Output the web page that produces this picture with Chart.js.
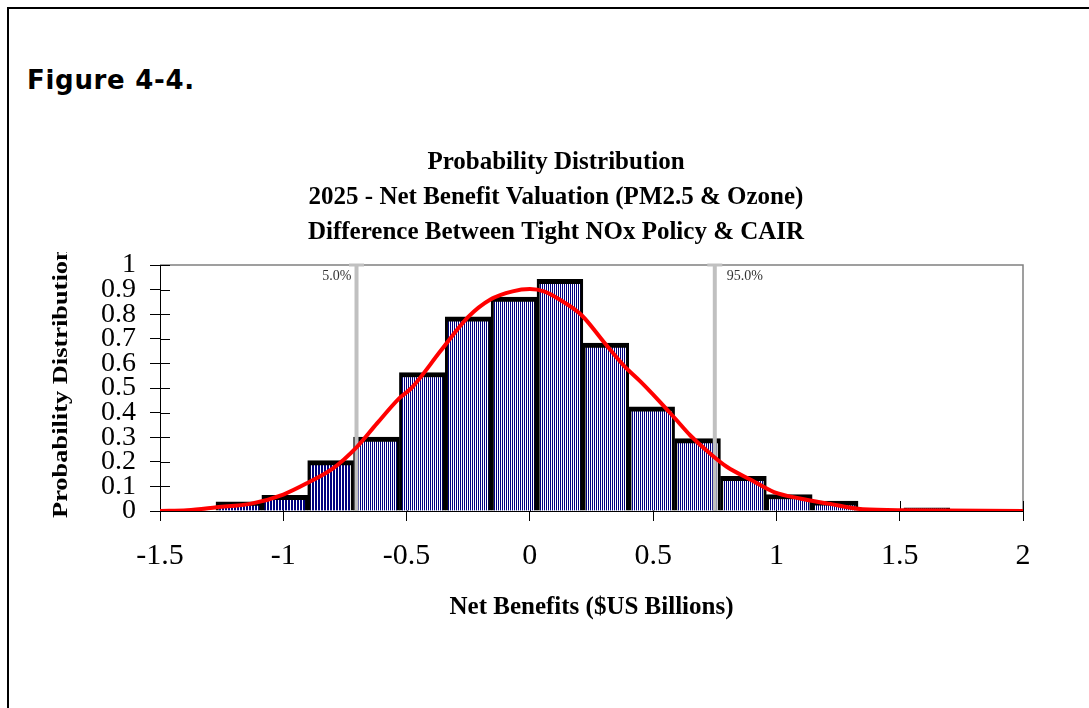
<!DOCTYPE html>
<html>
<head>
<meta charset="utf-8">
<script src="https://cdn.jsdelivr.net/npm/chart.js@4/dist/chart.umd.min.js"></script>
<style>
  html, body { margin: 0; padding: 0; background: #fff; overflow: hidden; }
  #frame { position: absolute; left: 7px; top: 7px; width: 1200px; height: 800px; border: 2px solid #000; }
  #fig { position: absolute; left: 27px; top: 67px; font: bold 26px "DejaVu Sans", Verdana, sans-serif; letter-spacing: 0.7px; line-height: 26px; color: #000; }
  #dist { position: absolute; left: 0; top: 0; }
</style>
</head>
<body>
<div id="frame"></div>
<div id="fig">Figure 4-4.</div>
<canvas id="dist" width="1089" height="708"></canvas>
<script>
// histogram bins (centre of each bin) and their heights
const binCenters = [-1.18, -0.994, -0.808, -0.622, -0.436, -0.25, -0.064, 0.122, 0.308, 0.494, 0.68, 0.866, 1.052, 1.238, 1.424, 1.61];
const binHeights = [0.037, 0.064, 0.205, 0.30, 0.563, 0.789, 0.87, 0.942, 0.683, 0.423, 0.294, 0.141, 0.067, 0.04, 0.004, 0.013];

// fitted density curve
const curveX = [-1.5, -1.39, -1.27, -1.13, -1.0, -0.9, -0.8, -0.7, -0.62, -0.53, -0.48, -0.36, -0.25, -0.16, -0.07, 0.0, 0.06, 0.12, 0.21, 0.30, 0.38, 0.45, 0.52, 0.59, 0.65, 0.74, 0.80, 0.90, 0.99, 1.10, 1.21, 1.35, 1.53, 2.0];
const curveY = [0, 0.003, 0.015, 0.03, 0.067, 0.115, 0.172, 0.262, 0.356, 0.458, 0.50, 0.653, 0.789, 0.86, 0.893, 0.902, 0.892, 0.86, 0.796, 0.687, 0.592, 0.525, 0.452, 0.375, 0.308, 0.226, 0.179, 0.125, 0.077, 0.05, 0.03, 0.007, 0.003, 0];

// 5% / 95% percentiles
const pctValues = [-0.703, 0.75];
const pctLabels = ['5.0%', '95.0%'];

const titleLines = ['Probability Distribution', '2025 - Net Benefit Valuation (PM2.5 & Ozone)', 'Difference Between Tight NOx Policy & CAIR'];
const xTitle = 'Net Benefits ($US Billions)';
const yTitle = 'Probability Distribution';
const xMin = -1.5, xMax = 2, xStep = 0.5;
const yMin = 0, yMax = 1, yStep = 0.1;

const serif = '"Liberation Serif", "Times New Roman", serif';

function stripes(navy, white) {
  const c = document.createElement('canvas');
  c.width = navy + white;
  c.height = 1;
  const g = c.getContext('2d');
  g.fillStyle = '#fff';
  g.fillRect(0, 0, c.width, 1);
  g.fillStyle = '#000080';
  g.fillRect(0, 0, navy, 1);
  return g.createPattern(c, 'repeat');
}
const darkFill = stripes(2, 1);
const lightFill = stripes(1, 1);
const barFills = binCenters.map(c => c < pctValues[0] ? darkFill : lightFill);

// plain numbers on the axes: 1, 0.5, -1 ...
const plain = v => String(Math.round(v * 10) / 10);

// grey frame on top/right and ticks crossing into the plot
const frameTicks = {
  id: 'frameTicks',
  beforeDatasetsDraw(chart) {
    const { ctx, chartArea: a, scales: { x, y } } = chart;
    ctx.save();
    ctx.strokeStyle = '#808080';
    ctx.lineWidth = 1.5;
    ctx.beginPath();
    ctx.moveTo(a.left, a.top);
    ctx.lineTo(a.right, a.top);
    ctx.lineTo(a.right, a.bottom);
    ctx.stroke();
    ctx.strokeStyle = '#000';
    ctx.lineWidth = 1;
    ctx.beginPath();
    y.ticks.forEach(t => {
      const py = Math.round(y.getPixelForValue(t.value)) + 0.5;
      ctx.moveTo(a.left, py);
      ctx.lineTo(a.left + 10, py);
    });
    x.ticks.forEach(t => {
      const px = Math.round(x.getPixelForValue(t.value)) + 0.5;
      ctx.moveTo(px, a.bottom);
      ctx.lineTo(px, a.bottom - 10);
    });
    ctx.stroke();
    ctx.restore();
  },
  afterDatasetsDraw(chart) {
    const { ctx, chartArea: a, scales: { x } } = chart;
    ctx.save();
    ctx.font = '14px ' + serif;
    ctx.fillStyle = '#333';
    ctx.textBaseline = 'middle';
    ctx.textAlign = 'right';
    ctx.fillText(pctLabels[0], x.getPixelForValue(pctValues[0]) - 5, a.top + 11);
    ctx.textAlign = 'left';
    ctx.fillText(pctLabels[1], x.getPixelForValue(pctValues[1]) + 12, a.top + 11);
    ctx.restore();
  },
  afterDraw(chart) {
    // y title is longer than the axis, so it gets cut off above the plot
    const { ctx, chartArea: a } = chart;
    ctx.save();
    ctx.beginPath();
    ctx.rect(0, a.top - 13, a.left, chart.height);
    ctx.clip();
    ctx.translate(67, a.bottom + 7);
    ctx.rotate(-Math.PI / 2);
    ctx.scale(1.2, 1);
    ctx.font = 'bold 22px ' + serif;
    ctx.fillStyle = '#000';
    ctx.textAlign = 'left';
    ctx.textBaseline = 'alphabetic';
    ctx.fillText(yTitle, 0, 0);
    ctx.restore();
  }
};

function pctLine(v) {
  return {
    type: 'line',
    data: [{ x: v, y: yMin }, { x: v, y: yMax }],
    borderColor: '#c0c0c0',
    borderWidth: 4,
    pointRadius: [0, 7.5],
    pointStyle: 'line',
    pointBorderColor: '#c0c0c0',
    pointBorderWidth: 3,
    clip: false,
    order: 1
  };
}

let context = document.querySelector('#dist').getContext('2d');
new Chart(context, {
  type: 'bar',
  data: {
    datasets: [
      {
        type: 'line',
        data: curveX.map((v, i) => ({ x: v, y: curveY[i] })),
        borderColor: '#ff0000',
        borderWidth: 4,
        pointRadius: 0,
        cubicInterpolationMode: 'monotone',
        order: 0
      },
      pctLine(pctValues[0]),
      pctLine(pctValues[1]),
      {
        type: 'bar',
        data: binCenters.map((v, i) => ({ x: v, y: binHeights[i] })),
        backgroundColor: barFills,
        borderColor: '#000',
        borderWidth: { top: 5, left: 3, right: 3, bottom: 0 },
        barPercentage: 1,
        categoryPercentage: 1,
        order: 2
      }
    ]
  },
  options: {
    responsive: false,
    animation: false,
    layout: { padding: { left: 89, right: 66, top: 0, bottom: 85 } },
    plugins: {
      legend: { display: false },
      tooltip: { enabled: false },
      title: {
        display: true,
        text: titleLines,
        color: '#000',
        font: { family: serif, size: 25, weight: 'bold', lineHeight: 1.4 },
        padding: { top: 145, bottom: 15 }
      }
    },
    scales: {
      x: {
        type: 'linear',
        min: xMin,
        max: xMax,
        offset: false,
        afterFit(s) { s.height = 112; },
        ticks: { stepSize: xStep, autoSkip: false, callback: plain, color: '#000', font: { family: serif, size: 30 }, padding: 17, maxRotation: 0 },
        grid: { offset: false, drawOnChartArea: false, tickLength: 10, color: '#000' },
        border: { color: '#000', width: 1 },
        title: { display: true, text: xTitle, color: '#000', font: { family: serif, size: 25, weight: 'bold' }, padding: 0 }
      },
      y: {
        min: yMin,
        max: yMax,
        afterFit(s) { s.width = 71; },
        ticks: { stepSize: yStep, autoSkip: false, callback: plain, color: '#000', font: { family: serif, size: 28 }, padding: 14 },
        grid: { drawOnChartArea: false, tickLength: 10, color: '#000' },
        border: { color: '#000', width: 1 }
      }
    }
  },
  plugins: [frameTicks]
});
</script>
</body>
</html>
